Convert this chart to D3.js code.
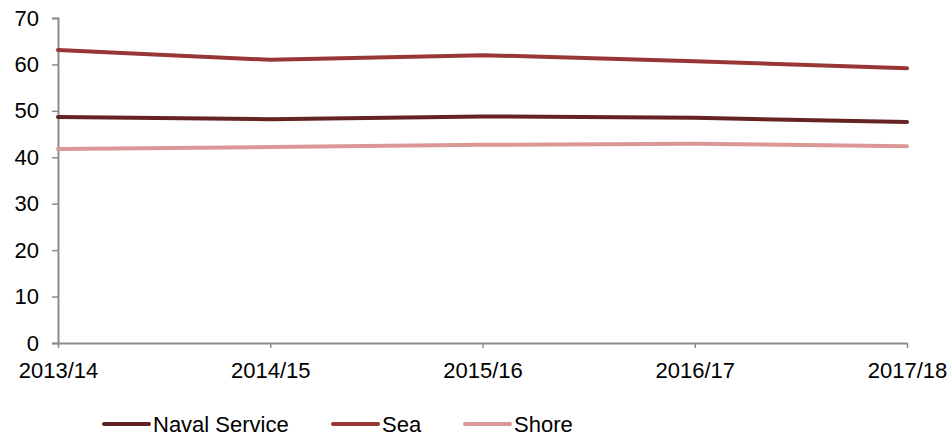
<!DOCTYPE html>
<html>
<head>
<meta charset="utf-8">
<script src="https://cdn.jsdelivr.net/npm/d3@7"></script>
<style>
body { margin: 0; background: #fff; }
svg { font-family: "Liberation Sans", Arial, sans-serif; }
</style>
</head>
<body>
<svg width="952" height="439"></svg>
<script>
// data
var years = ["2013/14", "2014/15", "2015/16", "2016/17", "2017/18"]
var navalService = [48.7, 48.2, 48.8, 48.5, 47.6]
var sea = [63.1, 61.0, 62.0, 60.7, 59.2]
var shore = [41.8, 42.2, 42.7, 42.9, 42.4]
var yTicks = [0, 10, 20, 30, 40, 50, 60, 70]

var seriesList = [
    {name: "Naval Service", values: navalService, color: "#652323"},
    {name: "Sea", values: sea, color: "#973836"},
    {name: "Shore", values: shore, color: "#db9795"}
]

var svg = d3.select("svg")
var axisColor = "#8c8c8c"
var fontSize = "22px"

var xScale = d3.scalePoint()
    .domain(years)
    .range([58, 907])

var yScale = d3.scaleLinear()
    .domain([0, 70])
    .range([343, 18])

// y axis
var yAxis = svg.append("g")
    .attr("transform", "translate(58,0)")
    .call(d3.axisLeft(yScale).tickValues(yTicks).tickSize(6).tickPadding(13))
yAxis.select(".domain").attr("stroke", axisColor).attr("stroke-width", 2)
yAxis.selectAll(".tick line").attr("stroke", axisColor).attr("stroke-width", 1.5)
yAxis.selectAll(".tick text")
    .attr("fill", "#000")
    .style("font-size", fontSize)
    .style("font-family", "Liberation Sans, Arial, sans-serif")

// x axis
var xAxis = svg.append("g")
    .attr("transform", "translate(0,343)")
    .call(d3.axisBottom(xScale).tickSize(5).tickSizeOuter(0).tickPadding(14))
xAxis.select(".domain").attr("stroke", axisColor).attr("stroke-width", 2)
xAxis.selectAll(".tick line").attr("stroke", axisColor).attr("stroke-width", 1.5)
xAxis.selectAll(".tick text")
    .attr("fill", "#000")
    .style("font-size", fontSize)
    .style("font-family", "Liberation Sans, Arial, sans-serif")

// lines
var line = d3.line()
    .x(function(d, i) { return xScale(years[i]) })
    .y(function(d) { return yScale(d) })

svg.selectAll(".series")
    .data(seriesList)
    .enter()
    .append("path")
    .attr("class", "series")
    .attr("d", function(s) { return line(s.values) })
    .attr("fill", "none")
    .attr("stroke", function(s) { return s.color })
    .attr("stroke-width", 4)
    .attr("stroke-linecap", "round")
    .attr("stroke-linejoin", "round")

// legend
var legendX = [104, 333, 465]
var legend = svg.append("g").attr("class", "legend")
var entries = legend.selectAll("g")
    .data(seriesList)
    .enter()
    .append("g")
    .attr("transform", function(s, i) { return "translate(" + legendX[i] + ",424)" })

entries.append("line")
    .attr("x1", 0)
    .attr("x2", 45)
    .attr("stroke", function(s) { return s.color })
    .attr("stroke-width", 4)
    .attr("stroke-linecap", "round")

entries.append("text")
    .attr("x", 49)
    .attr("y", 7.5)
    .style("font-size", fontSize)
    .text(function(s) { return s.name })
</script>
</body>
</html>
